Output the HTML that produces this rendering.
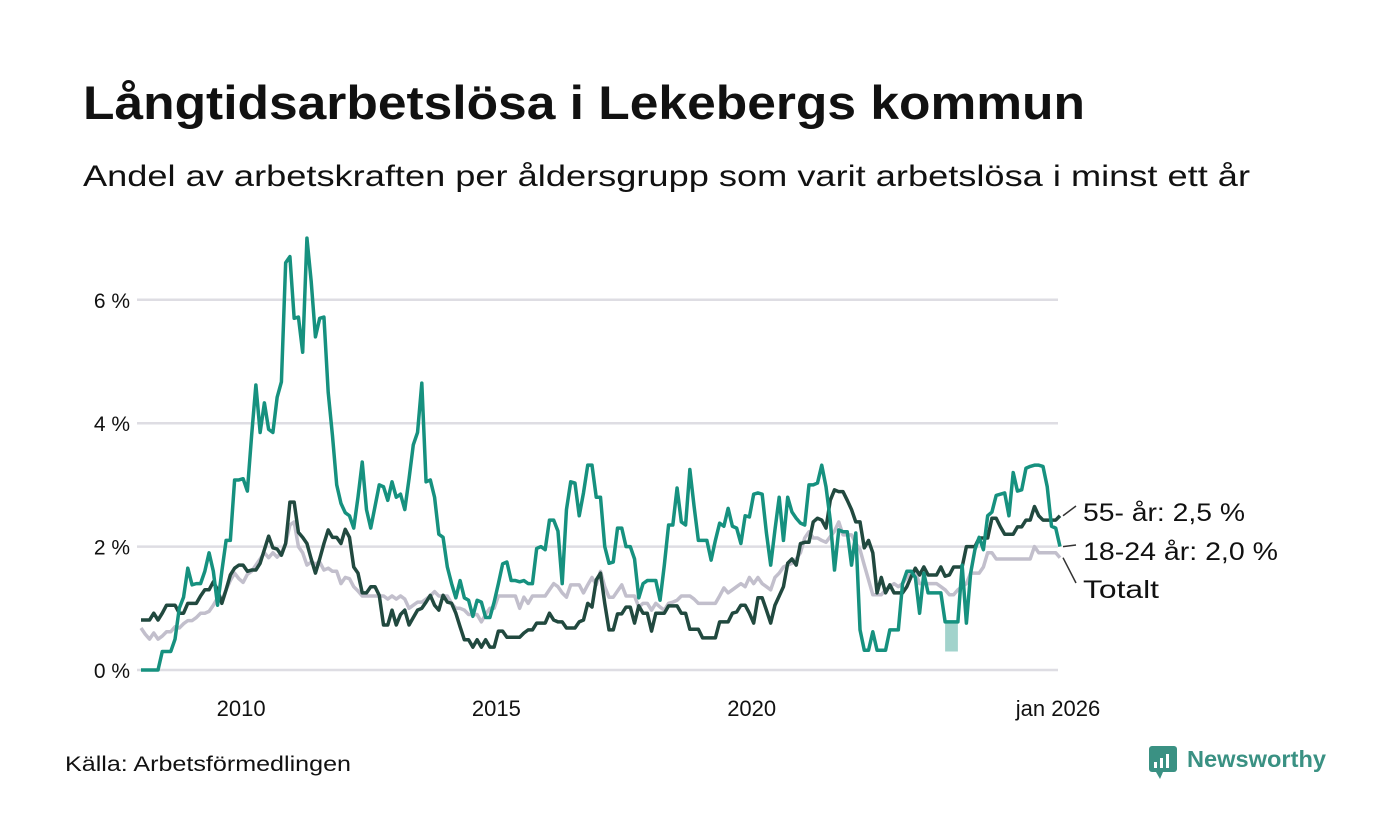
<!DOCTYPE html>
<html><head><meta charset="utf-8"><style>
html,body{margin:0;padding:0;background:#fff;}
svg{display:block;font-family:"Liberation Sans","DejaVu Sans",sans-serif;}
</style></head><body>
<svg id="chart" width="1400" height="840" viewBox="0 0 1400 840">
<text x="83" y="119" font-size="47" font-weight="bold" fill="#111" textLength="1002" lengthAdjust="spacingAndGlyphs">Långtidsarbetslösa i Lekebergs kommun</text>
<text x="83" y="186" font-size="30" fill="#111" textLength="1167" lengthAdjust="spacingAndGlyphs">Andel av arbetskraften per åldersgrupp som varit arbetslösa i minst ett år</text>
<g id="grid"></g>
<g id="yticks"></g>
<g id="xticks"></g>
<g id="series"></g>
<g id="labels"></g>
<text x="65" y="771" font-size="21" fill="#111" textLength="286" lengthAdjust="spacingAndGlyphs">Källa: Arbetsförmedlingen</text>
<g>
<rect x="1149" y="746" width="28" height="26" rx="3" fill="#3a9183"/>
<polygon points="1156,772 1163,772 1160,779" fill="#3a9183"/>
<rect x="1154" y="762" width="3" height="6" fill="#fff"/><rect x="1160" y="758" width="3" height="10" fill="#fff"/><rect x="1166" y="754" width="3" height="14" fill="#fff"/>
<text x="1187" y="767" font-size="23" font-weight="bold" fill="#3a9183" textLength="139" lengthAdjust="spacingAndGlyphs">Newsworthy</text>
</g>
</svg>
<script>
const yTicks=[0,2,4,6];
const yTickLabels=["0 %","2 %","4 %","6 %"];
const xTicks=[24,84,144,216];
const xTickLabels=["2010","2015","2020","jan 2026"];
const youth=[0,0,0,0,0,0.3,0.3,0.3,0.5,1.0,1.18,1.65,1.38,1.4,1.4,1.6,1.9,1.6,1.05,1.6,2.1,2.1,3.08,3.08,3.1,2.9,3.8,4.62,3.85,4.33,3.9,3.85,4.42,4.67,6.6,6.7,5.7,5.72,5.15,7.0,6.3,5.4,5.7,5.72,4.5,3.8,3.0,2.7,2.55,2.5,2.3,2.8,3.37,2.6,2.3,2.65,3.0,2.97,2.75,3.05,2.8,2.85,2.6,3.1,3.65,3.85,4.65,3.05,3.08,2.8,2.2,2.15,1.67,1.4,1.17,1.45,1.17,1.13,0.87,1.13,1.1,0.85,0.85,1.1,1.4,1.72,1.75,1.45,1.45,1.43,1.45,1.4,1.4,1.97,2.0,1.95,2.43,2.43,2.25,1.4,2.6,3.05,3.03,2.5,2.87,3.32,3.32,2.8,2.8,2.0,1.73,1.75,2.3,2.3,2.0,2.0,1.8,1.17,1.4,1.45,1.45,1.45,1.13,1.7,2.35,2.35,2.95,2.4,2.35,3.25,2.65,2.1,2.1,2.1,1.78,2.1,2.38,2.33,2.62,2.33,2.3,2.05,2.5,2.48,2.85,2.87,2.85,2.22,1.7,2.27,2.8,2.1,2.8,2.56,2.46,2.38,2.35,3.0,3.0,3.03,3.32,2.97,2.43,1.62,2.27,2.24,2.24,1.7,2.22,0.65,0.32,0.32,0.62,0.32,0.32,0.32,0.65,0.65,0.65,1.4,1.6,1.6,1.5,0.92,1.57,1.25,1.25,1.25,1.25,0.78,0.78,0.78,0.78,1.7,0.76,1.57,1.95,2.15,1.95,2.5,2.56,2.83,2.85,2.87,2.5,3.2,2.9,2.92,3.27,3.3,3.32,3.32,3.3,2.97,2.33,2.3,2.0];
const senior=[0.81,0.81,0.81,0.92,0.81,0.92,1.05,1.05,1.05,0.92,0.92,1.08,1.08,1.08,1.2,1.3,1.3,1.43,1.3,1.08,1.3,1.54,1.65,1.7,1.7,1.6,1.62,1.62,1.73,1.95,2.17,1.98,1.96,1.86,2.05,2.72,2.72,2.23,2.15,2.05,1.8,1.57,1.8,2.05,2.27,2.15,2.15,2.05,2.28,2.15,1.67,1.57,1.25,1.25,1.35,1.35,1.21,0.73,0.73,0.97,0.73,0.9,0.97,0.73,0.85,0.97,1.0,1.1,1.21,1.05,0.97,1.21,1.1,1.08,0.92,0.7,0.49,0.49,0.37,0.49,0.37,0.49,0.37,0.37,0.63,0.63,0.53,0.53,0.53,0.53,0.6,0.65,0.65,0.76,0.76,0.76,0.92,0.81,0.78,0.78,0.68,0.68,0.68,0.78,0.81,1.08,1.02,1.46,1.57,1.08,0.65,0.65,0.91,0.91,1.02,1.02,0.76,1.04,0.92,0.92,0.63,0.92,0.92,0.92,1.04,1.04,1.04,0.92,0.92,0.66,0.66,0.66,0.52,0.52,0.52,0.52,0.78,0.78,0.78,0.92,0.94,1.05,1.05,0.92,0.76,1.17,1.17,0.97,0.76,1.05,1.2,1.35,1.73,1.8,1.7,2.05,2.07,2.07,2.4,2.46,2.43,2.3,2.75,2.92,2.89,2.89,2.75,2.6,2.4,2.4,1.98,2.1,1.9,1.25,1.5,1.25,1.38,1.25,1.25,1.25,1.35,1.51,1.65,1.54,1.67,1.54,1.54,1.54,1.67,1.52,1.54,1.67,1.67,1.67,2.0,2.0,2.0,2.14,2.14,2.14,2.46,2.46,2.32,2.2,2.2,2.2,2.32,2.32,2.43,2.43,2.65,2.5,2.43,2.43,2.43,2.43,2.5];
const total=[0.68,0.58,0.5,0.6,0.5,0.55,0.62,0.62,0.7,0.68,0.75,0.8,0.8,0.85,0.92,0.92,0.95,1.05,1.17,1.13,1.3,1.45,1.57,1.48,1.42,1.55,1.6,1.7,1.8,1.9,1.82,1.9,1.83,1.9,2.05,2.35,2.4,2.0,1.9,1.7,1.75,1.72,1.75,1.62,1.65,1.6,1.6,1.4,1.5,1.48,1.35,1.28,1.2,1.2,1.2,1.2,1.2,1.2,1.15,1.2,1.15,1.2,1.15,1.0,1.05,1.1,1.1,1.15,1.2,1.27,1.2,1.2,1.2,1.08,1.0,1.0,0.97,0.9,0.9,0.9,0.78,0.9,1.0,1.0,1.2,1.2,1.2,1.2,1.2,1.0,1.18,1.08,1.2,1.2,1.2,1.2,1.3,1.4,1.35,1.25,1.18,1.38,1.38,1.38,1.25,1.38,1.5,1.38,1.6,1.35,1.18,1.18,1.28,1.38,1.2,1.2,1.2,1.02,1.08,1.08,0.97,1.08,1.02,0.97,1.08,1.1,1.13,1.2,1.2,1.2,1.15,1.08,1.08,1.08,1.08,1.08,1.2,1.33,1.25,1.3,1.35,1.4,1.35,1.5,1.4,1.5,1.4,1.35,1.3,1.5,1.57,1.67,1.7,1.73,1.8,1.9,2.14,2.24,2.14,2.14,2.1,2.07,2.16,2.25,2.4,2.19,2.19,2.19,2.05,1.95,1.7,1.46,1.22,1.22,1.22,1.3,1.35,1.4,1.35,1.4,1.5,1.6,1.58,1.4,1.4,1.4,1.4,1.4,1.35,1.3,1.22,1.22,1.3,1.35,1.4,1.57,1.57,1.57,1.67,1.9,1.9,1.8,1.8,1.8,1.8,1.8,1.8,1.8,1.8,1.8,2.0,1.9,1.9,1.9,1.9,1.9,1.82];
const bandIdx=[189,190,191,192];
const bandLow=[0.3,0.3,0.3,0.3];
const endLabels=["55- år: 2,5 %","18-24 år: 2,0 %","Totalt"];

const NS="http://www.w3.org/2000/svg";
const X0=141,X1=1060,N=216,Y0=670,PPU=61.7;
const xs=i=>X0+i*(X1-X0)/N;
const ys=v=>Y0-v*PPU;
function mk(tag,attrs,parent){const e=document.createElementNS(NS,tag);for(const k in attrs)e.setAttribute(k,attrs[k]);parent.appendChild(e);return e;}
const grid=document.getElementById('grid'),yt=document.getElementById('yticks'),xt=document.getElementById('xticks'),ser=document.getElementById('series'),lab=document.getElementById('labels');
yTicks.forEach((v,i)=>{
  const l=mk('line',{x1:137,x2:1058,y1:ys(v),y2:ys(v),stroke:'#dedde3','stroke-width':2.5},grid);
  
  
  const t=mk('text',{x:130,y:ys(v)+8,'text-anchor':'end','font-size':21,fill:'#111'},yt);
  t.textContent=yTickLabels[i];
  
  
});
xTicks.forEach((m,i)=>{
  const t=mk('text',{x:xs(m)-2,y:716,'text-anchor':'middle','font-size':22,fill:'#111'},xt);
  t.textContent=xTickLabels[i];
  
  
});
let bp=bandIdx.map(m=>xs(m)+','+ys(youth[m])).concat(bandIdx.slice().reverse().map((m,k)=>xs(m)+','+ys(bandLow[bandIdx.length-1-k])));
const band=mk('polygon',{points:bp.join(' '),fill:'#16917f','fill-opacity':0.4},ser);


function line(arr,color,name){
  const p=mk('polyline',{points:arr.map((v,i)=>xs(i)+','+ys(v)).join(' '),fill:'none',stroke:color,'stroke-width':3.5,'stroke-linejoin':'round'},ser);
  
  
}
line(total,'#c2bfcc','line-totalt');
line(senior,'#21493f','line-55-plus');
line(youth,'#16917f','line-18-24');
const ends=[senior[N],youth[N],total[N]];
const labY=[513,552,590];
const labW=[162,195,76];
ends.forEach((v,i)=>{
  const l=mk('line',{x1:xs(N)+3,y1:ys(v),x2:1076,y2:labY[i]-7,stroke:'#333','stroke-width':1.5},lab);
  
  
  const t=mk('text',{x:1083,y:labY[i]+8,'font-size':25,fill:'#111',textLength:labW[i],lengthAdjust:'spacingAndGlyphs'},lab);
  t.textContent=endLabels[i];
  
  
});
</script>
</body></html>
